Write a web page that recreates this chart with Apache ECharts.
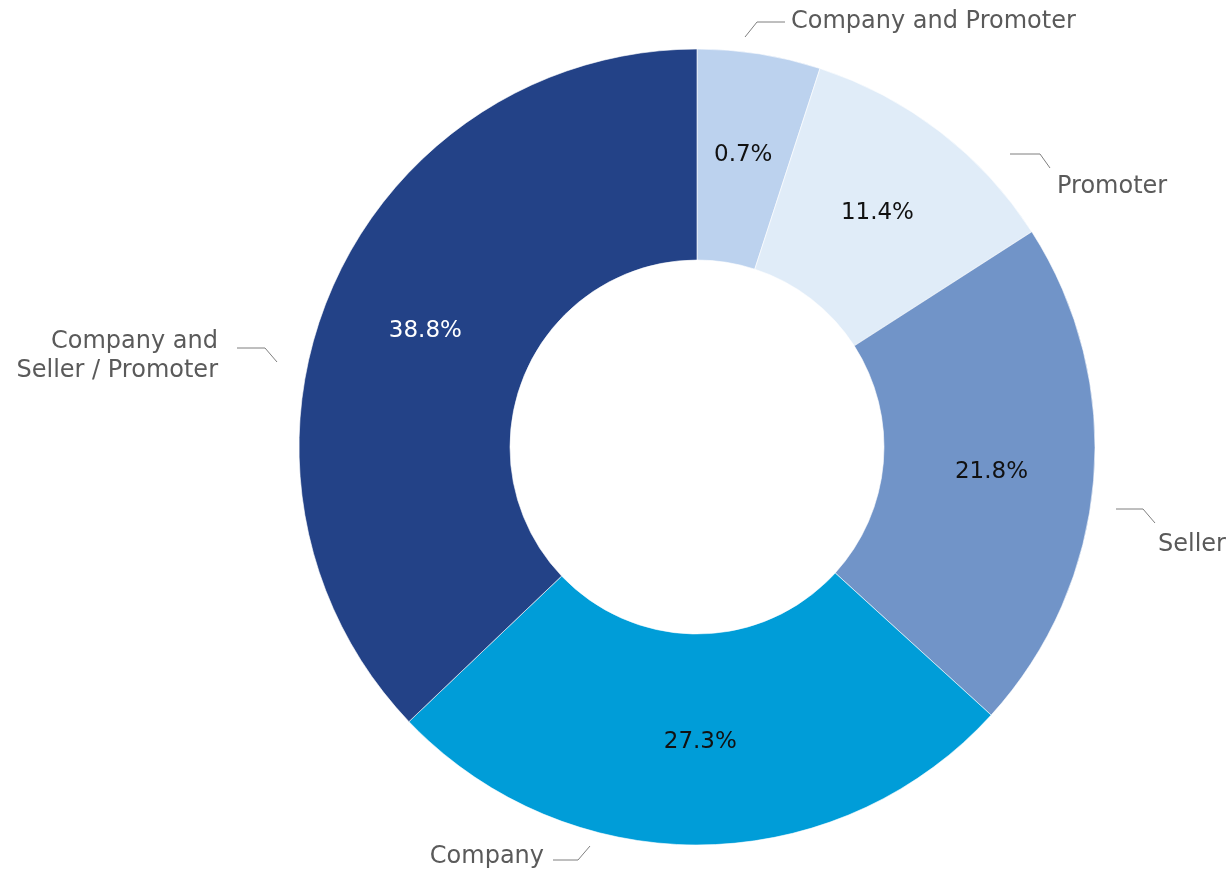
<!DOCTYPE html>
<html>
<head>
<meta charset="utf-8">
<script src="https://cdn.jsdelivr.net/npm/echarts@6/dist/echarts.min.js"></script>
<style>
  html, body { margin: 0; padding: 0; background: #ffffff; }
  #chart { width: 1229px; height: 873px; }
</style>
</head>
<body>
<div id="chart"></div>
<script>
// Share of cases by party, clockwise from 12 o'clock
const categories = [
  'Company and Promoter',
  'Promoter',
  'Seller',
  'Company',
  'Company and\nSeller / Promoter'
];
const shares = [0.7, 11.4, 21.8, 27.3, 38.8];

const sliceColors = ['#BCD2EE', '#E0ECF8', '#7194C8', '#009DD8', '#234287'];
const valueTextColors = ['#111111', '#111111', '#111111', '#111111', '#ffffff'];

// Placement of the name labels and their short leader lines
const nameLabelSpots = [
  { x: 791, y: 22, align: 'left', line: [[745, 37], [757, 22], [785, 22]] },
  { x: 1057, y: 187, align: 'left', line: [[1010, 154], [1040, 154], [1050, 168]] },
  { x: 1158, y: 545, align: 'left', line: [[1116, 509], [1143, 509], [1155, 523]] },
  { x: 544, y: 857, align: 'right', line: [[553, 860], [578, 860], [590, 846]] },
  { x: 218, y: 356, align: 'right', line: [[237, 348], [265, 348], [277, 362]] }
];

const FONT = 'DejaVu Sans';
const center = [697, 447];
const radius = [187, 398];

const chart = echarts.init(document.getElementById('chart'), null, { renderer: 'canvas' });

const sliceData = categories.map((name, i) => ({
  name: name,
  value: shares[i],
  itemStyle: { color: sliceColors[i] },
  label: { color: valueTextColors[i] }
}));

const nameData = categories.map((name, i) => ({ name: name, value: shares[i] }));

chart.setOption({
  animation: false,
  series: [
    {
      type: 'pie',
      center: center,
      radius: radius,
      startAngle: 90,
      minAngle: 18,
      clockwise: true,
      avoidLabelOverlap: false,
      silent: true,
      itemStyle: { borderColor: '#ffffff', borderWidth: 0.6 },
      label: {
        show: true,
        position: 'inside',
        fontFamily: FONT,
        fontSize: 23,
        formatter: p => p.value.toFixed(1) + '%'
      },
      labelLine: { show: false },
      data: sliceData
    },
    {
      type: 'pie',
      center: center,
      radius: radius,
      startAngle: 90,
      minAngle: 18,
      clockwise: true,
      avoidLabelOverlap: false,
      silent: true,
      itemStyle: { color: 'rgba(0,0,0,0)' },
      label: {
        show: true,
        position: 'outside',
        fontFamily: FONT,
        fontSize: 24,
        lineHeight: 29,
        color: '#5a5a5a',
        formatter: p => p.name
      },
      labelLine: {
        show: true,
        lineStyle: { color: '#7f7f7f', width: 1 }
      },
      labelLayout: params => {
        const s = nameLabelSpots[params.dataIndex];
        return {
          x: s.x,
          y: s.y,
          align: s.align,
          verticalAlign: 'middle',
          labelLinePoints: s.line
        };
      },
      data: nameData
    }
  ]
});
</script>
</body>
</html>
